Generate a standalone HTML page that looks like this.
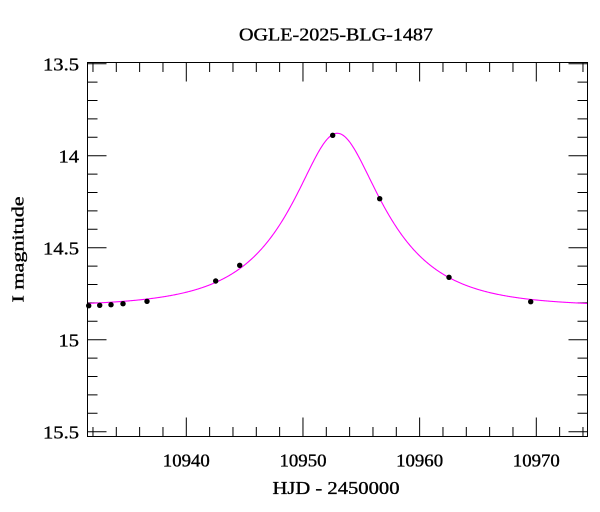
<!DOCTYPE html>
<html>
<head>
<meta charset="utf-8">
<style>
html,body{margin:0;padding:0;background:#fff;}
svg{display:block;}
text{font-family:"Liberation Serif","DejaVu Serif",serif;fill:#000;stroke:#000;stroke-width:0.35px;}
</style>
</head>
<body>
<svg id="chart" width="600" height="512" viewBox="0 0 600 512" xmlns="http://www.w3.org/2000/svg">
<defs>
<clipPath id="plotclip"><rect x="87.5" y="62.5" width="500" height="374"/></clipPath>
</defs>
<rect x="0" y="0" width="600" height="512" fill="#fff"/>

<!-- title -->
<text x="336" y="40.7" font-size="18" text-anchor="middle" textLength="194" lengthAdjust="spacingAndGlyphs">OGLE-2025-BLG-1487</text>

<!-- x ticks: bottom & top -->
<g stroke="#000" stroke-width="1" fill="none">
<path d="
M92.97 436.5 v-9.5 M116.30 436.5 v-9.5 M139.63 436.5 v-9.5 M162.97 436.5 v-9.5
M186.30 436.5 v-19
M209.63 436.5 v-9.5 M232.97 436.5 v-9.5 M256.30 436.5 v-9.5 M279.63 436.5 v-9.5
M302.97 436.5 v-19
M326.30 436.5 v-9.5 M349.63 436.5 v-9.5 M372.97 436.5 v-9.5 M396.30 436.5 v-9.5
M419.63 436.5 v-19
M442.97 436.5 v-9.5 M466.30 436.5 v-9.5 M489.63 436.5 v-9.5 M512.97 436.5 v-9.5
M536.30 436.5 v-19
M559.63 436.5 v-9.5 M582.97 436.5 v-9.5

M92.97 62.5 v9.5 M116.30 62.5 v9.5 M139.63 62.5 v9.5 M162.97 62.5 v9.5
M186.30 62.5 v19
M209.63 62.5 v9.5 M232.97 62.5 v9.5 M256.30 62.5 v9.5 M279.63 62.5 v9.5
M302.97 62.5 v19
M326.30 62.5 v9.5 M349.63 62.5 v9.5 M372.97 62.5 v9.5 M396.30 62.5 v9.5
M419.63 62.5 v19
M442.97 62.5 v9.5 M466.30 62.5 v9.5 M489.63 62.5 v9.5 M512.97 62.5 v9.5
M536.30 62.5 v19
M559.63 62.5 v9.5 M582.97 62.5 v9.5
"/>
<!-- y ticks left & right -->
<path d="
M87.5 63.7 h19
M87.5 82.1 h10 M87.5 100.5 h10 M87.5 118.9 h10 M87.5 137.3 h10
M87.5 155.7 h19
M87.5 174.1 h10 M87.5 192.5 h10 M87.5 210.9 h10 M87.5 229.3 h10
M87.5 247.7 h19
M87.5 266.1 h10 M87.5 284.5 h10 M87.5 302.9 h10 M87.5 321.3 h10
M87.5 339.7 h19
M87.5 358.1 h10 M87.5 376.5 h10 M87.5 394.9 h10 M87.5 413.3 h10
M87.5 431.7 h19

M587.5 63.7 h-19
M587.5 82.1 h-10 M587.5 100.5 h-10 M587.5 118.9 h-10 M587.5 137.3 h-10
M587.5 155.7 h-19
M587.5 174.1 h-10 M587.5 192.5 h-10 M587.5 210.9 h-10 M587.5 229.3 h-10
M587.5 247.7 h-19
M587.5 266.1 h-10 M587.5 284.5 h-10 M587.5 302.9 h-10 M587.5 321.3 h-10
M587.5 339.7 h-19
M587.5 358.1 h-10 M587.5 376.5 h-10 M587.5 394.9 h-10 M587.5 413.3 h-10
M587.5 431.7 h-19
"/>
</g>

<!-- model curve -->
<path id="curve" d="" fill="none" stroke="#ff00ff" stroke-width="1.1" clip-path="url(#plotclip)"/>

<!-- data points -->
<g fill="#000">
<circle cx="88.7" cy="305.7" r="2.7"/>
<circle cx="99.7" cy="305.3" r="2.7"/>
<circle cx="111" cy="304.7" r="2.7"/>
<circle cx="123" cy="303.7" r="2.7"/>
<circle cx="147" cy="301.3" r="2.7"/>
<circle cx="215.7" cy="281" r="2.7"/>
<circle cx="239.7" cy="265.3" r="2.7"/>
<circle cx="332.7" cy="135.3" r="2.7"/>
<circle cx="379.7" cy="198.7" r="2.7"/>
<circle cx="449" cy="277.3" r="2.7"/>
<circle cx="530.7" cy="301.7" r="2.7"/>
</g>

<!-- frame -->
<rect x="87.5" y="62.5" width="500" height="374" fill="none" stroke="#000" stroke-width="1"/>

<!-- x tick labels -->
<g font-size="18" text-anchor="middle">
<text x="186.3" y="466.5" textLength="47" lengthAdjust="spacingAndGlyphs">10940</text>
<text x="303" y="466.5" textLength="47" lengthAdjust="spacingAndGlyphs">10950</text>
<text x="419.6" y="466.5" textLength="47" lengthAdjust="spacingAndGlyphs">10960</text>
<text x="536.3" y="466.5" textLength="47" lengthAdjust="spacingAndGlyphs">10970</text>
</g>

<!-- y tick labels -->
<g font-size="18" text-anchor="end">
<text x="79" y="70.7" textLength="36" lengthAdjust="spacingAndGlyphs">13.5</text>
<text x="79" y="162.7" textLength="20.5" lengthAdjust="spacingAndGlyphs">14</text>
<text x="79" y="254.7" textLength="36" lengthAdjust="spacingAndGlyphs">14.5</text>
<text x="79" y="346.7" textLength="20.5" lengthAdjust="spacingAndGlyphs">15</text>
<text x="79" y="438.7" textLength="36" lengthAdjust="spacingAndGlyphs">15.5</text>
</g>

<!-- axis labels -->
<text x="336" y="494" font-size="18" text-anchor="middle" textLength="127" lengthAdjust="spacingAndGlyphs">HJD - 2450000</text>
<text transform="translate(23.7,249.5) rotate(-90)" x="0" y="0" font-size="17" text-anchor="middle" textLength="106" lengthAdjust="spacingAndGlyphs">I magnitude</text>
</svg>
<script>
(function(){
  var I0=14.821,u0=0.451,tE=7.2,t0=10952.94;
  function X(t){return 186.3+(t-10940)*11.6667;}
  function Y(m){return 63.7+(m-13.5)*184;}
  var d="";
  for(var i=0;i<=900;i++){
    var t=10931.3+i*(10974.6-10931.3)/900;
    var tau=(t-t0)/tE;
    var u=Math.sqrt(u0*u0+tau*tau);
    var A=(u*u+2)/(u*Math.sqrt(u*u+4));
    var m=I0-2.5*Math.log10(A);
    d+=(i?"L":"M")+X(t).toFixed(2)+" "+Y(m).toFixed(2);
  }
  document.getElementById("curve").setAttribute("d",d);
})();
</script>
</body>
</html>
